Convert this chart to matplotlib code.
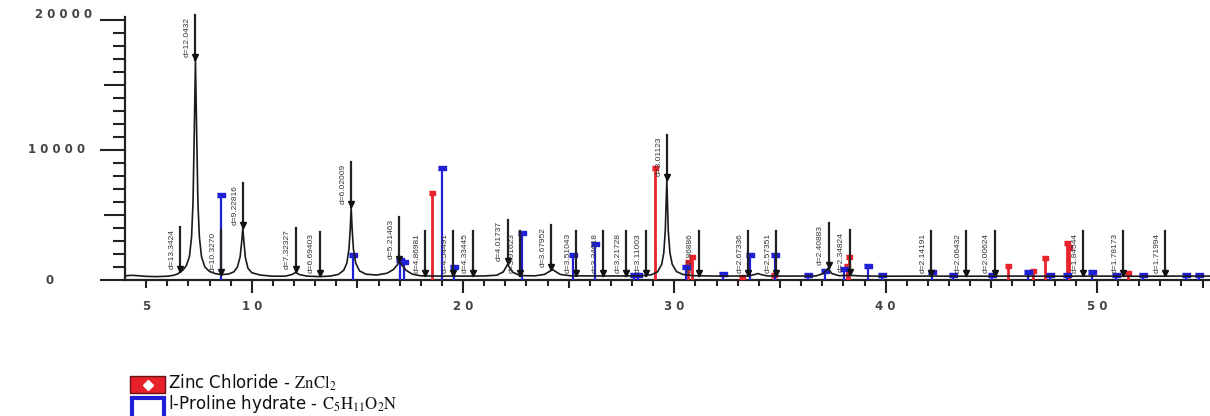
import numpy as np
import matplotlib.pyplot as plt
from matplotlib.patches import Rectangle
from matplotlib.transforms import blended_transform_factory

plt.rcParams['mathtext.fontset'] = 'stix'

WAVELENGTH = 1.5406  # Cu K-alpha, angstrom

# measured scan, traced point by point (2theta in degrees, counts)
scan_2theta = [4.0, 4.3, 4.6, 5.0, 5.5, 6.0, 6.3, 6.5, 6.62, 6.75, 6.9, 7.05, 7.15, 7.22, 7.28, 7.334,
               7.39, 7.45, 7.52, 7.62, 7.78, 8.0, 8.3, 8.6, 8.9, 9.15, 9.32, 9.45, 9.52, 9.576, 9.63,
               9.7, 9.82, 10.0, 10.4, 11.0, 11.6, 11.9, 12.076, 12.25, 12.6, 13.2, 13.7, 14.1, 14.35,
               14.5, 14.6, 14.66, 14.703, 14.75, 14.81, 14.92, 15.1, 15.4, 15.9, 16.4, 16.7, 16.88,
               16.988, 17.1, 17.3, 17.6, 18.0, 19.0, 20.0, 21.0, 21.6, 21.9, 22.02, 22.11, 22.2, 22.35,
               22.7, 23.4, 23.85, 24.08, 24.23, 24.38, 24.6, 25.1, 26.5, 27.5, 28.4, 28.9, 29.2, 29.4,
               29.5, 29.57, 29.643, 29.71, 29.79, 29.9, 30.1, 30.4, 30.9, 32.0, 33.5, 33.8, 33.95, 34.1,
               34.4, 35.5, 36.7, 37.05, 37.27, 37.45, 37.8, 38.3, 38.8, 40.0, 42.0, 44.0, 46.0, 48.0,
               50.0, 52.0, 54.0, 55.5]
scan_counts = [320, 360, 330, 280, 260, 290, 360, 470, 620, 780, 1100, 1800, 3300, 6000, 11500, 16900,
               11500, 6000, 3300, 1800, 1000, 650, 480, 420, 460, 620, 1000, 1800, 2900, 4000, 2900,
               1700, 900, 560, 380, 290, 300, 420, 580, 420, 300, 260, 300, 430, 750,
               1300, 2400, 3900, 5600, 3900, 2400, 1300, 700, 450, 380, 520, 800, 1150,
               1400, 1150, 750, 450, 320, 300, 300, 310, 370, 620, 950, 1200, 950, 600,
               340, 320, 430, 650, 800, 650, 430, 320, 310, 310, 320, 400, 620, 1200,
               2100, 3800, 7700, 3800, 2100, 1200, 650, 430, 330, 300, 310, 420, 500, 420,
               310, 300, 310, 500, 900, 500, 330, 360, 310, 290, 300, 290, 300, 290,
               300, 290, 300, 300]

# peak search: d-spacings and the counts where each marker sits
peak_labels = ["13.3424", "12.0432", "10.3270", "9.22816", "7.32327", "6.69403", "6.02009", "5.21463",
               "4.86981", "4.54491", "4.33445", "4.01737", "3.91623", "3.67952", "3.51043", "3.34618",
               "3.21728", "3.11003", "3.01123", "2.86886", "2.67336", "2.57351", "2.40883", "2.34824",
               "2.14191", "2.06432", "2.00624", "1.84544", "1.78173", "1.71994"]
peak_counts = [620, 16900, 420, 4000, 580, 270, 5600, 1400,
               300, 300, 300, 1200, 330, 800, 320, 310,
               310, 320, 7700, 330, 310, 310, 900, 360,
               300, 290, 300, 290, 300, 290]

# reference sticks: ZnCl2
zncl2_2theta = [18.52, 29.08, 30.65, 30.85, 33.2, 34.7, 38.18, 38.28, 45.79, 46.97, 47.54, 48.6, 48.7, 51.45]
zncl2_counts = [6700, 8600, 1400, 1770, 250, 350, 1100, 1770, 1080, 700, 1700, 2850, 2500, 500]

# reference sticks: l-proline hydrate
proline_2theta = [8.54, 14.8, 17.0, 17.2, 19.02, 19.55, 22.78, 25.2, 26.24, 28.1, 28.3, 30.55, 32.3,
                  33.58, 34.78, 36.33, 37.13, 38.05, 39.16, 39.84, 42.2, 43.19, 45.03, 46.74, 47.78,
                  48.6, 49.76, 50.92, 52.16, 54.2, 54.83]
proline_counts = [6500, 1900, 1500, 1400, 8600, 1000, 3600, 1900, 2800, 350, 350, 1000, 450,
                  1900, 1900, 400, 700, 850, 1050, 400, 650, 350, 350, 650, 350,
                  400, 650, 350, 350, 350, 350]


def d_to_2theta(d):
    return np.degrees(2 * np.arcsin(WAVELENGTH / (2 * np.asarray(d, dtype=float))))


fig = plt.figure(figsize=(12.1, 4.16), dpi=100)
ax = fig.add_axes([125 / 1210, 1 - 280 / 416, 1085 / 1210, 280 / 416])
ax.set_xlim(4.0, 55.35)
ax.set_ylim(0, 21538)

bar_marker = [(-1, -0.45), (1, -0.45), (1, 0.45), (-1, 0.45)]

# reference sticks
ax.vlines(zncl2_2theta, 0, zncl2_counts, color='#e8232b', lw=2.0, zorder=3)
ax.plot(zncl2_2theta, zncl2_counts, ls='none', marker=bar_marker, ms=5, color='#e8232b', zorder=3)
ax.vlines(proline_2theta, 0, proline_counts, color='#1f1fd6', lw=1.6, zorder=3)
ax.plot(proline_2theta, proline_counts, ls='none', marker=bar_marker, ms=5.5, color='#1f1fd6', zorder=3)

# scan
ax.plot(scan_2theta, scan_counts, color='#1a1a1a', lw=1.2, zorder=4)

# peak markers with d-spacing labels
peak_2theta = d_to_2theta([float(s) for s in peak_labels])
line_len = 3450
for x, c, s in zip(peak_2theta, peak_counts, peak_labels):
    top = c + line_len
    ax.plot([x, x], [c, top], color='#222222', lw=1.6, zorder=5)
    ax.plot(x, c + 230, marker='v', ms=5, color='#111111', zorder=6)
    ax.text(x - 0.22, top - 150, 'd=' + s, rotation=90, ha='right', va='top',
            fontsize=6, family='Liberation Sans', color='#333333', zorder=6)

# axes styling
for side in ('top', 'right'):
    ax.spines[side].set_visible(False)
ax.spines['left'].set_bounds(0, 20250)
ax.spines['left'].set_linewidth(1.6)
ax.spines['bottom'].set_linewidth(1.6)
ax.spines['left'].set_color('#222222')
ax.spines['bottom'].set_color('#222222')

ax.set_xticks(np.arange(5, 56, 5))
ax.set_xticks(np.arange(5, 56, 1), minor=True)
ax.set_yticks(np.arange(0, 20001, 5000))
ax.set_yticks(np.arange(0, 20001, 1000), minor=True)
ax.tick_params(axis='both', which='both', labelbottom=False, labelleft=False,
               color='#222222', width=1.5, direction='out')
ax.tick_params(axis='x', which='minor', length=4)
ax.tick_params(axis='x', which='major', length=6)
ax.tick_params(axis='y', which='minor', length=8.5)
ax.tick_params(axis='y', which='major', length=15)
for t, v in zip(ax.xaxis.get_major_ticks(), np.arange(5, 56, 5)):
    if v % 10 == 0:
        t.tick1line.set_markersize(9.5)
for t, v in zip(ax.yaxis.get_major_ticks(), np.arange(0, 20001, 5000)):
    if v % 10000 == 0:
        t.tick1line.set_markersize(18)

# spaced-out tick labels
tick_style = dict(fontsize=8.5, fontweight='bold', color='#444444', family='DejaVu Sans')
xt = blended_transform_factory(ax.transData, fig.transFigure)
for v in [5, 10, 20, 30, 40, 50]:
    ax.text(v, 1 - 307 / 416, ' '.join(str(v)), transform=xt, ha='center', va='center', **tick_style)
yt = blended_transform_factory(fig.transFigure, ax.transData)
for v, yv, xpx in [(0, 0, 50), (10000, 10000, 57), (20000, 20450, 64)]:
    ax.text(xpx / 1210, yv, ' '.join(str(v)), transform=yt, ha='center', va='center', **tick_style)

# legend
fig.patches.append(Rectangle((130 / 1210, 1 - 393 / 416), 35 / 1210, 17 / 416, transform=fig.transFigure,
                             facecolor='#e8202a', edgecolor='#6b1010', lw=1.0))
fig.lines.append(plt.Line2D([147.5 / 1210], [1 - 384.5 / 416], transform=fig.transFigure,
                            marker='D', ms=5, color='white', ls='none'))
fig.patches.append(Rectangle((131.5 / 1210, 1 - 416 / 416 - 0.01), 32 / 1210, 18 / 416 + 0.01,
                             transform=fig.transFigure, facecolor='white', edgecolor='#1f1fd6', lw=3.0))
legend_style = dict(fontsize=12, color='#111111', family='DejaVu Sans', va='center', ha='left')
fig.text(168 / 1210, 1 - 383 / 416, 'Zinc Chloride - $\\mathrm{ZnCl_2}$', **legend_style)
fig.text(168 / 1210, 1 - 404 / 416, 'l-Proline hydrate - $\\mathrm{C_5H_{11}O_2N}$', **legend_style)

fig.savefig('out.png', dpi=100)
